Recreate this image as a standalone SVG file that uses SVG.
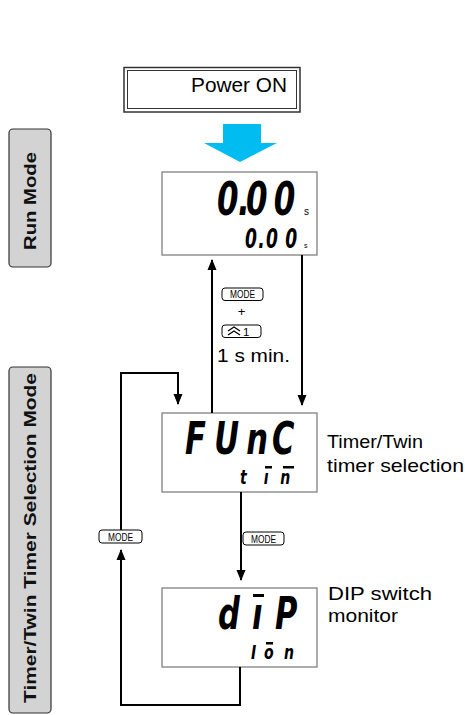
<svg xmlns="http://www.w3.org/2000/svg" width="465" height="715" viewBox="0 0 465 715">
<defs>
<marker id="ah" markerWidth="11" markerHeight="11" refX="10" refY="5.5" orient="auto" markerUnits="userSpaceOnUse">
<path d="M0,1 L11,5.5 L0,10 Z" fill="#000"/>
</marker>
</defs>
<style>
.lbl{font-family:"Liberation Sans",Arial,sans-serif;fill:#000}
.mode{font-family:"Liberation Sans Narrow","Liberation Sans",Arial,sans-serif;font-size:10.5px;fill:#000}
.key{fill:#fff;stroke:#000;stroke-width:1}
.lcd{fill:#fff;stroke:#808080;stroke-width:1.3}
.seg{font-family:"DejaVu Sans",sans-serif;font-style:italic;font-weight:bold;fill:#000}
.conn{fill:none;stroke:#000;stroke-width:2}
.side{fill:#d3d3d3;stroke:#333;stroke-width:1.2}
.sidet{font-family:"Liberation Sans",Arial,sans-serif;font-weight:bold;font-size:16.5px;fill:#111}
</style>
<rect width="465" height="715" fill="#fff"/>

<g id="run-mode-label">
<rect class="side" x="9" y="129" width="42" height="138" rx="4"/>
<text class="sidet" transform="translate(36,201) rotate(-90)" text-anchor="middle" textLength="98" lengthAdjust="spacingAndGlyphs">Run Mode</text>
</g>
<g id="timer-mode-label">
<rect class="side" x="9" y="367" width="42" height="346" rx="4"/>
<text class="sidet" transform="translate(36,538) rotate(-90)" text-anchor="middle" textLength="330" lengthAdjust="spacingAndGlyphs">Timer/Twin Timer Selection Mode</text>
</g>

<g id="power-on">
<rect x="124" y="67.5" width="176" height="44.5" fill="#fff" stroke="#333" stroke-width="1.5"/>
<rect x="127.5" y="70.5" width="169" height="38" fill="none" stroke="#333" stroke-width="1"/>
<text class="lbl" x="239" y="92" font-size="20" text-anchor="middle" textLength="96" lengthAdjust="spacingAndGlyphs">Power ON</text>
</g>

<g id="power-arrow">
<polygon points="223,124 261,124 261,143 277,143 240,162 204,143 223,143" fill="#00bcf0"/>
</g>

<g id="run-display">
<rect class="lcd" x="162" y="172" width="155" height="83"/>
<text class="seg" transform="translate(217,215) scale(0.66,1)" font-size="47" x="0 32 44 86">0.00</text>
<text class="lbl" x="304" y="215" font-size="10">s</text>
<text class="seg" transform="translate(245,248) scale(0.66,1)" font-size="26" x="0 20 32 61">0.00</text>
<text class="lbl" x="304" y="248" font-size="7">s</text>
</g>

<g id="func-display">
<rect class="lcd" x="162" y="413" width="155" height="79"/>
<text class="seg" transform="translate(185,454) scale(0.68,1)" font-size="45" x="0 43 90 128">FUnC</text>
<text class="seg" transform="translate(240,484) scale(0.72,1)" font-size="19.5" x="0 33 56">tın</text>
<rect x="265" y="466" width="7" height="2.5" fill="#000"/>
<rect x="283" y="466" width="11" height="2.5" fill="#000"/>
</g>

<g id="func-caption">
<text class="lbl" x="327" y="448" font-size="18.5" textLength="96" lengthAdjust="spacingAndGlyphs">Timer/Twin</text>
<text class="lbl" x="327" y="472" font-size="18.5" textLength="137" lengthAdjust="spacingAndGlyphs">timer selection</text>
</g>

<g id="dip-display">
<rect class="lcd" x="162" y="588" width="155" height="79"/>
<text class="seg" transform="translate(218,629) scale(0.68,1)" font-size="45" x="0 50 84">dıP</text>
<rect x="253" y="594" width="11" height="3" fill="#000"/>
<text class="seg" transform="translate(251,659) scale(0.72,1)" font-size="19.5" x="0 18 46">Ion</text>
<rect x="266" y="642" width="7" height="2.5" fill="#000"/>
</g>

<g id="dip-caption">
<text class="lbl" x="328" y="600" font-size="18.5" textLength="104" lengthAdjust="spacingAndGlyphs">DIP switch</text>
<text class="lbl" x="328" y="622" font-size="18.5" textLength="70" lengthAdjust="spacingAndGlyphs">monitor</text>
</g>

<g id="connectors">
<line class="conn" x1="212" y1="413" x2="212" y2="260" marker-end="url(#ah)"/>
<line class="conn" x1="302" y1="255" x2="302" y2="405" marker-end="url(#ah)"/>
<line class="conn" x1="241" y1="492" x2="241" y2="580" marker-end="url(#ah)"/>
<polyline class="conn" points="240,667 240,705 121,705 121,550" marker-end="url(#ah)"/>
<polyline class="conn" points="121,530 121,373 178,373 178,404" marker-end="url(#ah)"/>
</g>

<g id="key-mode-run">
<rect class="key" x="222" y="288" width="41" height="12.5" rx="3"/>
<text class="mode" x="242.5" y="298" text-anchor="middle" textLength="25" lengthAdjust="spacingAndGlyphs">MODE</text>
<text class="lbl" x="241.5" y="316" font-size="13" text-anchor="middle">+</text>
<rect class="key" x="222" y="325" width="39" height="12.5" rx="3"/>
<polyline points="228,331 234,327 240,331" fill="none" stroke="#000" stroke-width="1.3"/>
<polyline points="228,335 234,331 240,335" fill="none" stroke="#000" stroke-width="1.3"/>
<text class="lbl" x="243" y="336" font-size="11.5">1</text>
<text class="lbl" x="217" y="362" font-size="18.5" textLength="73" lengthAdjust="spacingAndGlyphs">1 s min.</text>
</g>

<g id="key-mode-down">
<rect class="key" x="243" y="532" width="41" height="13" rx="3"/>
<text class="mode" x="263.5" y="542.5" text-anchor="middle" textLength="25" lengthAdjust="spacingAndGlyphs">MODE</text>
</g>

<g id="key-mode-loop">
<rect class="key" x="99" y="530" width="43" height="13" rx="3"/>
<text class="mode" x="120.5" y="540.5" text-anchor="middle" textLength="25" lengthAdjust="spacingAndGlyphs">MODE</text>
</g>
</svg>
